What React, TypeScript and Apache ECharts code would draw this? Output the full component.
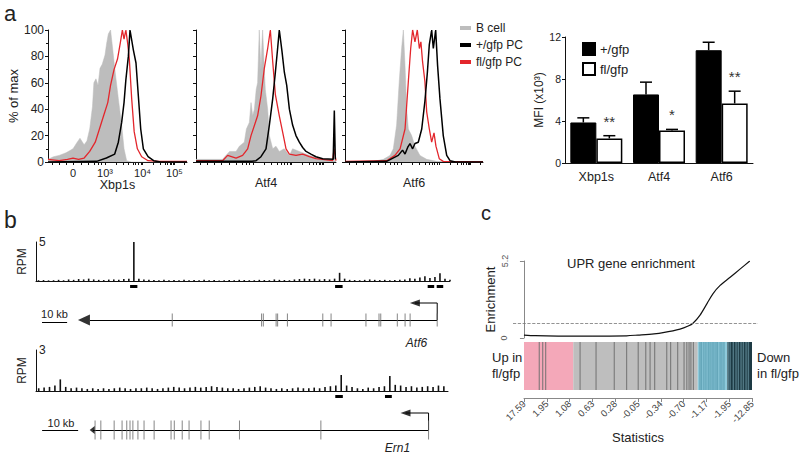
import React, { useEffect, useRef } from 'react';
import * as echarts from 'echarts';

const FONT = '"Liberation Sans", Arial, Helvetica, sans-serif';

// ---------- Panel a: flow histograms, [axis position (% of width), % of max] ----------
const HIST_X_LABEL_POS = [18, 41, 68, 91];
const HIST_X_LABELS = ['0', '10³', '10⁴', '10⁵'];
const HIST_X_TICKS = [3, 8, 13, 18, 24, 29, 33, 36, 38, 41, 49, 54, 58, 61, 63, 65, 67, 68, 76, 81, 84, 86, 88, 89, 90, 91, 98];
const HIST_NAMES = ['Xbp1s', 'Atf4', 'Atf6'];

const XBP1S_BCELL = [[0,2],[4,4],[8,5],[13,7],[18,10],[21,15],[23,18],[26,13],[28,16],[30,25],[32,42],[33,60],[34.5,63],[36,58],[37.4,71],[39,74],[41,81],[42.2,90],[43.4,97],[45,100],[46.5,86],[48,71],[50.6,48],[53,28],[54.7,10],[56.6,1],[60,0],[100,0]];
const XBP1S_FL = [[0,2],[8,1],[14,2],[18,3],[22,2],[26,3],[30,8],[34,15],[37,25],[40,35],[43,45],[45,58],[47.5,70],[50,78],[52,90],[53.5,100],[54.7,93],[56,100],[57.3,90],[58.5,78],[60.2,48],[62,23],[64.3,10],[67.4,4],[72,1],[80,0.5],[100,0.5]];
const XBP1S_WT = [[0,0],[35,0.5],[42,3],[48,6],[50.6,15],[53,30],[54.7,45],[56,62],[57.8,80],[59,100],[61.4,85],[63.3,75],[65,50],[66.7,25],[68.6,10],[72,4],[76,1],[81,0],[100,0]];

const ATF4_BCELL = [[0,2],[19,2],[21.4,5],[24,8],[28.6,8],[31,12],[34.5,15],[36,25],[38.1,30],[39.3,45],[40.5,35],[41.7,40],[43,55],[44,60],[45.2,100],[46.4,70],[47.1,90],[47.6,100],[48.8,70],[49.5,55],[51.2,40],[52.4,20],[54.8,10],[57.1,12],[59.5,8],[63,10],[66.7,5],[69,10],[73.8,8],[81,5],[90.5,2],[97.6,1],[100,1]];
const ATF4_FL = [[0,1],[19,1],[22.6,5],[28.6,3],[33.3,5],[36.9,10],[39.3,20],[44,35],[46.4,50],[48.8,71],[51.2,86],[53.1,100],[54.8,76],[56.7,51],[59.5,35],[62.4,20],[64.3,10],[66.7,6],[71.4,5],[76.2,6],[81,4],[85.7,2.5],[90.5,2],[97.6,1],[98.6,10],[100,1]];
const ATF4_WT = [[0,0.5],[40,0.5],[42.9,1],[46.4,4],[50,10],[52.4,28],[54.8,48],[56.7,68],[58.3,86],[59.5,100],[61.4,84],[63.1,68],[64.8,58],[66.7,40],[69,28],[71.4,20],[73.8,15],[76.2,11],[78.6,8],[82.1,6],[85.7,4],[90.5,2.5],[98,2],[98.8,39],[99.5,2],[100,2]];

const ATF6_BCELL = [[0,0],[20,0.3],[27.8,2],[32.6,5],[35,10],[37.4,28],[39.3,61],[41,86],[42.3,100],[43.5,73],[44.7,40],[45.9,25],[48.3,20],[50.7,12],[54.3,5],[59.2,2],[66.4,0.5],[100,0]];
const ATF6_FL = [[0,0.5],[30.2,1],[36.2,5],[39.9,10],[43.5,25],[45.9,61],[47.6,86],[49,100],[50.7,91],[52.4,100],[53.9,86],[55,91],[56.2,76],[57.9,61],[59.2,38],[61.1,25],[62.8,15],[64.5,22],[65.9,12],[68.3,2.5],[71.2,0.5],[100,0.3]];
const ATF6_WT = [[0,0],[30.2,0.5],[38.6,5],[41.7,9],[43.5,6],[45.4,11],[47.1,14],[49,10],[50.7,14],[53.1,15],[55.6,25],[57.9,46],[59.7,68],[61.1,89],[62.8,100],[64,86],[65.7,100],[67.1,73],[68.8,48],[71.2,20],[73.7,5],[76.1,1],[80,0],[100,0]];

// ---------- Panel a: MFI bars ----------
const BAR_CATS = ['Xbp1s', 'Atf4', 'Atf6'];
const WT_MEAN = [3.86, 6.53, 10.74];
const WT_ERR = [0.44, 1.17, 0.76];
const FL_MEAN = [2.34, 3.1, 5.67];
const FL_ERR = [0.26, 0.1, 1.17];
const SIG = ['**', '*', '**'];

// ---------- Panel b: tracks (RPM per bin) ----------
const TRACK1_BIN_KB = 2;
const TRACK1_SPAN_KB = 165;
const TRACK1 = [
  0.1,0.12,0.08,0.1,0.15,0.1,
  0.2,0.15,0.25,0.2,0.3,0.2,
  0.15,0.12,0.18,0.2,0.15,0.25,0.3,
  5.0,
  0.3,0.2,0.15,0.12,0.1,0.15,0.1,0.12,0.1,0.15,0.1,
  0.12,0.1,0.15,0.1,0.12,0.08,0.1,0.12,0.1,0.15,0.12,0.1,0.1,0.15,0.12,0.1,0.2,0.15,0.12,0.1,
  0.2,0.25,0.3,0.25,0.3,0.2,0.25,0.2,
  0.3,1.05,0.3,
  0.15,0.12,0.1,0.15,0.2,0.15,0.12,0.15,0.1,0.12,0.15,0.2,
  0.35,0.3,0.45,0.6,0.4,0.5,1.0,0.3,0.15,
];
const TRACK2_BIN_KB = 1.5;
const TRACK2_SPAN_KB = 114.4;
const TRACK2 = [
  0.2,0.25,0.3,0.4,
  0.85,
  0.3,0.2,0.25,0.2,0.15,
  0.2,0.15,0.2,0.15,0.2,0.25,0.2,0.15,0.2,0.2,
  0.25,0.2,0.15,0.2,0.25,0.3,0.25,0.2,0.25,0.3,
  0.25,0.3,0.35,0.3,0.25,0.2,0.2,0.15,0.2,0.25,
  0.3,0.35,0.25,0.2,0.15,0.2,0.15,0.2,0.25,0.2,
  0.2,0.25,0.2,0.3,0.35,0.4,
  1.17,
  0.4,0.3,0.2,0.15,0.25,0.2,0.3,0.35,
  1.1,
  0.45,0.4,0.3,0.35,0.25,0.3,0.35,0.3,0.4,0.35,
];

// gene models (kb)
const ATF6_SPAN = [21.5, 159.9];
const ATF6_HEAD = 19.1;
const ATF6_EXONS = [54.3, 89.9, 90.6, 95.7, 96.3, 100.2, 114.3, 117.6, 131.5, 136.7, 137.4, 144, 147.1, 149.1, 159.9];
const ATF6_PEAKS = [[37.5, 40.4], [119.2, 122.2], [156.1, 158.7], [159.7, 162.3]];
const ATF6_TSS_END = 151;
const ATF6_SCALE = [2.4, 12.4];

const ERN1_SPAN = [15.8, 109];
const ERN1_HEAD = 15.6;
const ERN1_EXONS = [16.4, 18, 21.7, 23.9, 25.2, 26.1, 26.9, 28.3, 30, 32.8, 37.5, 38.4, 40.6, 42.5, 45.8, 48.1, 56.5, 79.1, 109];
const ERN1_PEAKS = [[83.1, 85.2], [96.9, 98.8]];
const ERN1_TSS_END = 102.6;
const ERN1_SCALE = [1.7, 11.7];

// ---------- Panel c ----------
const ENRICH_X = [0, 5, 15, 30, 45, 50, 57, 61, 68.4, 72, 74.1, 77.2, 80.3, 82.9, 86, 90.4, 94.7, 99];
const ENRICH_Y = [0.2, 0.16, 0.13, 0.12, 0.15, 0.2, 0.28, 0.36, 0.6, 0.81, 1.0, 1.55, 2.34, 3.0, 3.55, 4.1, 4.65, 5.2];
const ENRICH_NULL = 1.0;
const ENRICH_TICKS = [0, 5.2];
const BARCODE_BOUNDS = [0, 21.6, 76.2, 89.2, 100];
const HITS_GRAY = [6.7, 8.2, 9.5, 24.6, 31.6, 39.6, 45, 50.1, 53.4, 55.3, 57.3, 62.6, 64.3, 67.4, 70.2, 71.4, 72.4, 73.2, 74.3];
const HITS_BLUE = [77.2, 77.9, 78.9, 79.8, 80.8, 81.6, 82.5, 83.3, 84.2, 84.9, 86, 86.8, 87.7];
const HITS_DARK = [89.6, 90.4, 91.8, 93, 94, 95.2, 96.2, 97.4, 98.4];
const STAT_LABELS = ['17.59', '1.95', '1.08', '0.63', '0.28', '-0.05', '-0.34', '-0.70', '-1.17', '-1.95', '-12.85'];

function buildOption(): any {
  const grids: any[] = [];
  const xAxes: any[] = [];
  const yAxes: any[] = [];
  const series: any[] = [];
  const black = '#111';

  // histograms
  const histLeft = [48, 196, 345];
  const histW = [139, 140, 138];
  const histData = [
    [XBP1S_BCELL, XBP1S_WT, XBP1S_FL],
    [ATF4_BCELL, ATF4_WT, ATF4_FL],
    [ATF6_BCELL, ATF6_WT, ATF6_FL],
  ];
  for (let i = 0; i < 3; i++) {
    grids.push({ left: histLeft[i], top: 30, width: histW[i], height: 132 });
    xAxes.push({
      gridIndex: i, type: 'value', min: 0, max: 100,
      name: HIST_NAMES[i], nameLocation: 'middle', nameGap: 14,
      nameTextStyle: { fontSize: 12.5, color: '#222' },
      axisLine: { lineStyle: { color: black, width: 1 } },
      axisTick: { show: true, length: 3, customValues: HIST_X_TICKS, lineStyle: { color: black } },
      axisLabel: {
        show: i === 0, customValues: HIST_X_LABEL_POS, fontSize: 11, color: '#222', margin: 5,
        formatter: (v: number) => HIST_X_LABELS[HIST_X_LABEL_POS.indexOf(v)] ?? '',
      },
      splitLine: { show: false },
    });
    yAxes.push({
      gridIndex: i, type: 'value', min: 0, max: 100, interval: 20,
      name: i === 0 ? '% of max' : '', nameLocation: 'middle', nameGap: 24,
      nameTextStyle: { fontSize: 13, color: '#222' },
      axisLine: { show: true, lineStyle: { color: black, width: 1 } },
      axisTick: { show: true, length: 3, lineStyle: { color: black } },
      minorTick: { show: true, splitNumber: 2, length: 2, lineStyle: { color: black } },
      axisLabel: { show: i === 0, fontSize: 12, color: '#222', margin: 4 },
      splitLine: { show: false },
    });
    const [b, wt, fl] = histData[i];
    series.push({
      type: 'line', name: 'B cell', xAxisIndex: i, yAxisIndex: i, data: b, symbol: 'none',
      itemStyle: { color: '#bdbdbd' }, lineStyle: { width: 0.5, color: '#bdbdbd' },
      areaStyle: { color: '#bdbdbd', opacity: 1 }, z: 1,
    });
    series.push({
      type: 'line', name: '+/gfp PC', xAxisIndex: i, yAxisIndex: i, data: wt, symbol: 'none',
      itemStyle: { color: '#000' }, lineStyle: { width: 1.5, color: '#000' }, z: 3,
    });
    series.push({
      type: 'line', name: 'fl/gfp PC', xAxisIndex: i, yAxisIndex: i, data: fl, symbol: 'none',
      itemStyle: { color: '#e3262c' }, lineStyle: { width: 1.3, color: '#e3262c' }, z: 2,
    });
  }

  // bar chart (grid 3)
  grids.push({ left: 565, top: 37, width: 188, height: 126 });
  xAxes.push({
    gridIndex: 3, type: 'category', data: BAR_CATS,
    axisLine: { lineStyle: { color: black, width: 1 } },
    axisTick: { show: false },
    axisLabel: { fontSize: 12.5, color: '#222', margin: 7 },
  });
  yAxes.push({
    gridIndex: 3, type: 'value', min: 0, max: 12, interval: 4,
    name: 'MFI (x10³)', nameLocation: 'middle', nameGap: 18,
    nameTextStyle: { fontSize: 12, color: '#222' },
    axisLine: { show: true, lineStyle: { color: black, width: 1 } },
    axisTick: { show: true, length: 3, lineStyle: { color: black } },
    axisLabel: { fontSize: 10.5, color: '#222', margin: 4 },
    splitLine: { show: false },
  });
  series.push({
    type: 'bar', name: '+/gfp', xAxisIndex: 3, yAxisIndex: 3, data: WT_MEAN,
    barWidth: 26, barGap: '0%', itemStyle: { color: '#000', borderColor: '#000', borderWidth: 1 },
  });
  series.push({
    type: 'bar', name: 'fl/gfp', xAxisIndex: 3, yAxisIndex: 3, data: FL_MEAN,
    barWidth: 26, itemStyle: { color: '#fff', borderColor: '#000', borderWidth: 1.5 },
  });
  const errSeries = (means: number[], errs: number[], side: number, stars: boolean) => ({
    type: 'custom', xAxisIndex: 3, yAxisIndex: 3, z: 5,
    data: means.map((m, i) => [i, m, errs[i]]),
    renderItem: (params: any, api: any) => {
      const base = api.coord([api.value(0), api.value(1)]);
      const top = api.coord([api.value(0), api.value(1) + api.value(2)]);
      const x = base[0] + side * 13;
      const children: any[] = [
        { type: 'line', shape: { x1: x, y1: base[1], x2: x, y2: top[1] }, style: { stroke: '#000', lineWidth: 1.5 } },
        { type: 'line', shape: { x1: x - 6, y1: top[1], x2: x + 6, y2: top[1] }, style: { stroke: '#000', lineWidth: 1.5 } },
      ];
      if (stars) {
        children.push({
          type: 'text', x, y: top[1] - 7,
          style: { text: SIG[params.dataIndex], textAlign: 'center', textVerticalAlign: 'bottom', fontSize: 15, fontFamily: FONT, fill: '#333' },
        });
      }
      return { type: 'group', children };
    },
  });
  series.push(errSeries(WT_MEAN, WT_ERR, -1, false));
  series.push(errSeries(FL_MEAN, FL_ERR, 1, true));

  // tracks and gene models
  const hiddenAxis = (g: number, min: number, max: number) => ({
    gridIndex: g, type: 'value', min, max, show: false, splitLine: { show: false },
  });
  const trackAxes = (g: number, span: number, ymax: number) => {
    xAxes.push({
      gridIndex: g, type: 'value', min: 0, max: span,
      axisLine: { show: true, onZero: false, lineStyle: { color: black, width: 1 } },
      axisTick: { show: false }, axisLabel: { show: false }, splitLine: { show: false },
    });
    yAxes.push({
      gridIndex: g, type: 'value', min: 0, max: ymax,
      name: 'RPM', nameLocation: 'middle', nameGap: 4,
      nameTextStyle: { fontSize: 12, color: '#222' },
      axisLine: { show: true, lineStyle: { color: black, width: 1 } },
      axisTick: { show: false },
      axisLabel: { show: true, inside: true, customValues: [ymax], fontSize: 12, color: '#222', margin: 3 },
      splitLine: { show: false },
    });
  };
  // grid 4: track 1
  grids.push({ left: 36, top: 242, width: 414, height: 39 });
  trackAxes(4, TRACK1_SPAN_KB, 5);
  series.push({
    type: 'bar', xAxisIndex: 4, yAxisIndex: 4, barWidth: 1.6, itemStyle: { color: '#111' },
    data: TRACK1.map((v, i) => [i * TRACK1_BIN_KB + TRACK1_BIN_KB / 2, v]),
  });
  // grid 5: Atf6 gene
  grids.push({ left: 36, top: 286, width: 414, height: 51 });
  xAxes.push(hiddenAxis(5, 0, TRACK1_SPAN_KB));
  yAxes.push(hiddenAxis(5, -1, 2));
  // grid 6: track 2
  grids.push({ left: 36, top: 350, width: 412, height: 41 });
  trackAxes(6, TRACK2_SPAN_KB, 3);
  series.push({
    type: 'bar', xAxisIndex: 6, yAxisIndex: 6, barWidth: 1.6, itemStyle: { color: '#111' },
    data: TRACK2.map((v, i) => [i * TRACK2_BIN_KB + TRACK2_BIN_KB / 2, v]),
  });
  // grid 7: Ern1 gene
  grids.push({ left: 36, top: 396, width: 412, height: 51 });
  xAxes.push(hiddenAxis(7, 0, TRACK2_SPAN_KB));
  yAxes.push(hiddenAxis(7, -1, 2));

  const geneSeries = (g: number, span: number[], head: number, headSize: number[], exons: number[], exonH: number,
    peaks: number[][], tssEnd: number, scale: number[], scaleY: number) => {
    series.push({
      type: 'lines', coordinateSystem: 'cartesian2d', xAxisIndex: g, yAxisIndex: g, silent: true,
      data: [{ coords: [[span[0], 0], [span[1], 0]] }, { coords: [[scale[0], scaleY], [scale[1], scaleY]] }],
      lineStyle: { color: '#000', width: 1, opacity: 1 },
    });
    series.push({
      type: 'lines', coordinateSystem: 'cartesian2d', xAxisIndex: g, yAxisIndex: g, silent: true, polyline: true,
      data: [{ coords: [[span[1], 0], [span[1], 1], [tssEnd, 1]] }],
      lineStyle: { color: '#000', width: 1, opacity: 1 },
    });
    series.push({
      type: 'lines', coordinateSystem: 'cartesian2d', xAxisIndex: g, yAxisIndex: g, silent: true,
      data: peaks.map(([a, b]) => ({ coords: [[a, 2], [b, 2]] })),
      lineStyle: { color: '#000', width: 3, opacity: 1 },
    });
    series.push({
      type: 'scatter', xAxisIndex: g, yAxisIndex: g, silent: true,
      data: exons.map((x) => [x, 0]), symbol: 'rect', symbolSize: [1, exonH],
      itemStyle: { color: '#666' },
    });
    series.push({
      type: 'scatter', xAxisIndex: g, yAxisIndex: g, silent: true,
      data: [[head, 0]], symbol: 'triangle', symbolRotate: 90, symbolSize: headSize,
      itemStyle: { color: '#000' },
    });
    series.push({
      type: 'scatter', xAxisIndex: g, yAxisIndex: g, silent: true,
      data: [[tssEnd, 1]], symbol: 'triangle', symbolRotate: 90, symbolSize: [7, 10],
      itemStyle: { color: '#000' },
    });
  };
  geneSeries(5, ATF6_SPAN, ATF6_HEAD, [11, 12], ATF6_EXONS, 13, ATF6_PEAKS, ATF6_TSS_END, ATF6_SCALE, -0.12);
  geneSeries(7, ERN1_SPAN, ERN1_HEAD, [8, 5], ERN1_EXONS, 19, ERN1_PEAKS, ERN1_TSS_END, ERN1_SCALE, 0);

  // grid 8: enrichment curve
  grids.push({ left: 513, top: 261, width: 245, height: 77 });
  xAxes.push(hiddenAxis(8, -4.8, 102.6));
  yAxes.push({
    gridIndex: 8, type: 'value', min: 0, max: 5.2,
    name: 'Enrichment', nameLocation: 'middle', nameGap: 16,
    nameTextStyle: { fontSize: 13, color: '#222' },
    axisLine: { show: true, lineStyle: { color: '#888', width: 1 } },
    axisTick: { show: true, length: 4, customValues: ENRICH_TICKS, lineStyle: { color: '#888' } },
    axisLabel: {
      show: true, customValues: [ENRICH_TICKS[1]], rotate: 90, fontSize: 9, color: '#555', margin: 4,
      formatter: (v: number) => String(v),
    },
    splitLine: { show: false },
  });
  series.push({
    type: 'line', xAxisIndex: 8, yAxisIndex: 8, smooth: 0.3, symbol: 'none',
    data: ENRICH_X.map((x, i) => [x, ENRICH_Y[i]]),
    lineStyle: { color: '#111', width: 1.2 },
    markLine: {
      silent: true, symbol: 'none', label: { show: false },
      lineStyle: { type: 'dashed', color: '#777', width: 0.8 },
      data: [{ yAxis: ENRICH_NULL }],
    },
  });

  // grid 9: barcode
  grids.push({ left: 524, top: 342, width: 228, height: 48 });
  xAxes.push({
    gridIndex: 9, type: 'value', min: 0, max: 100, interval: 10, offset: 8,
    name: 'Statistics', nameLocation: 'middle', nameGap: 33,
    nameTextStyle: { fontSize: 13, color: '#222' },
    axisLine: { show: true, onZero: false, lineStyle: { color: '#888', width: 1 } },
    axisTick: { show: true, length: 4, lineStyle: { color: '#888' } },
    axisLabel: { rotate: 45, fontSize: 9.5, color: '#444', margin: 4, formatter: (v: number) => STAT_LABELS[Math.round(v / 10)] },
    splitLine: { show: false },
  });
  yAxes.push(hiddenAxis(9, 0, 1));
  const bgColors = ['#f4a8b9', '#bebebe', '#8fcadb', '#1d3a44'];
  series.push({
    type: 'scatter', xAxisIndex: 9, yAxisIndex: 9, silent: true,
    data: HITS_GRAY.map((x) => [x, 0.5]), symbol: 'rect', symbolSize: [1.2, 48],
    itemStyle: { color: '#6e6e6e' }, z: 3,
    markArea: {
      silent: true,
      data: bgColors.map((c, i) => [{ xAxis: BARCODE_BOUNDS[i], itemStyle: { color: c } }, { xAxis: BARCODE_BOUNDS[i + 1] }]),
    },
  });
  series.push({
    type: 'scatter', xAxisIndex: 9, yAxisIndex: 9, silent: true,
    data: HITS_BLUE.map((x) => [x, 0.5]), symbol: 'rect', symbolSize: [1.4, 48],
    itemStyle: { color: '#5a9db2' }, z: 3,
  });
  series.push({
    type: 'scatter', xAxisIndex: 9, yAxisIndex: 9, silent: true,
    data: HITS_DARK.map((x) => [x, 0.5]), symbol: 'rect', symbolSize: [1.4, 48],
    itemStyle: { color: '#5f8794' }, z: 3,
  });

  const txt = (text: string, x: number, y: number, size: number, extra: any = {}, rotation = 0) => ({
    type: 'text', x, y, rotation, silent: true,
    style: { text, fontSize: size, fontFamily: FONT, fill: '#222', textAlign: 'left', textVerticalAlign: 'middle', ...extra },
  });

  return {
    animation: false,
    textStyle: { fontFamily: FONT },
    grid: grids,
    xAxis: xAxes,
    yAxis: yAxes,
    series,
    legend: [
      {
        data: ['B cell', '+/gfp PC', 'fl/gfp PC'], orient: 'vertical', left: 455, top: 17,
        icon: 'rect', itemWidth: 11, itemHeight: 4, itemGap: 5, selectedMode: false,
        textStyle: { fontSize: 12, color: '#222', fontFamily: FONT },
      },
      {
        data: ['+/gfp', 'fl/gfp'], orient: 'vertical', left: 577, top: 37,
        icon: 'rect', itemWidth: 12, itemHeight: 12, itemGap: 6, selectedMode: false,
        textStyle: { fontSize: 13, color: '#222', fontFamily: FONT },
      },
    ],
    graphic: [
      txt('a', 4, 13, 22),
      txt('b', 4, 220, 23),
      txt('c', 481, 213, 20),
      txt('0', 504, 338, 9, { textAlign: 'center', fill: '#555' }, Math.PI / 2),
      txt('10 kb', 54.5, 314, 11, { textAlign: 'center' }),
      txt('10 kb', 61, 423, 11, { textAlign: 'center' }),
      txt('Atf6', 416.5, 342.5, 12, { textAlign: 'center', fontStyle: 'italic' }),
      txt('Ern1', 397.5, 448, 12, { textAlign: 'center', fontStyle: 'italic' }),
      txt('UPR gene enrichment', 631, 263, 13, { textAlign: 'center' }),
      txt('Up in', 492, 357, 13),
      txt('fl/gfp', 492, 373, 13),
      txt('Down', 757, 357, 13),
      txt('in fl/gfp', 757, 373, 13),
    ],
  };
}

export default function App() {
  const ref = useRef<HTMLDivElement>(null);
  useEffect(() => {
    if (!ref.current) return;
    const chart = echarts.init(ref.current, undefined, { renderer: 'svg' });
    chart.setOption(buildOption());
    return () => chart.dispose();
  }, []);
  return <div ref={ref} style={{ position: 'absolute', left: 0, top: 0, width: 800, height: 457, background: '#fff' }} />;
}
